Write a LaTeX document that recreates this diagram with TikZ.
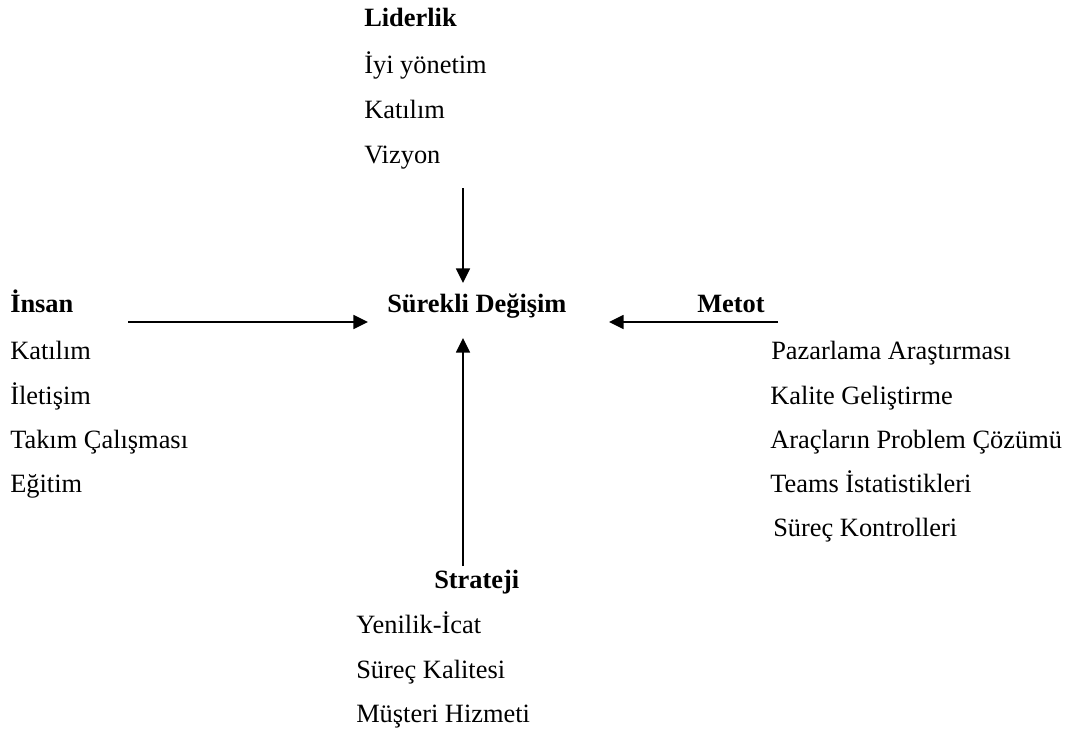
\documentclass[tikz,border=0pt]{standalone}
\usepackage{fontspec}
\setmainfont{Liberation Serif}
\usetikzlibrary{arrows.meta}
\begin{document}
\begin{tikzpicture}[x=0.75pt,y=-0.75pt,
  lbl/.style={anchor=base west,inner sep=0pt,font=\fontsize{19.8}{23}\selectfont},
  hdr/.style={lbl,font=\fontsize{19.8}{23}\selectfont\bfseries},
  arr/.style={line width=1.2pt,-{Triangle[length=11pt,width=10.5pt]}}]
\useasboundingbox (0,0) rectangle (1068,733);
% Liderlik
\node[hdr] (lid) at (364,26) {Liderlik};
\node[lbl] (l1) at (364,73) {İyi yönetim};
\node[lbl] (l2) at (364,118) {Katılım};
\node[lbl] (l3) at (364,163) {Vizyon};
% center
\node[hdr] (sd) at (387,312) {Sürekli Değişim};
% Insan
\node[hdr] (ins) at (10,312) {İnsan};
\node[lbl] (i1) at (10,359) {Katılım};
\node[lbl] (i2) at (10,404) {İletişim};
\node[lbl] (i3) at (10,448) {Takım Çalışması};
\node[lbl] (i4) at (10,492) {Eğitim};
% Metot
\node[hdr] (met) at (697,312) {Metot};
\node[lbl] (m1) at (771,359) {Pazarlama Araştırması};
\node[lbl] (m2) at (770,404) {Kalite Geliştirme};
\node[lbl] (m3) at (770,448) {Araçların Problem Çözümü};
\node[lbl] (m4) at (770,492) {Teams İstatistikleri};
\node[lbl] (m5) at (773,536) {Süreç Kontrolleri};
% Strateji
\node[hdr] (str) at (434,588) {Strateji};
\node[lbl] (s1) at (356,633) {Yenilik-İcat};
\node[lbl] (s2) at (356,678) {Süreç Kalitesi};
\node[lbl] (s3) at (356,722) {Müşteri Hizmeti};
% arrows
\coordinate (ta) at (463,188);
\coordinate (tb) at (463,283);
\coordinate (la) at (128,322);
\coordinate (lb) at (368,322);
\coordinate (ra) at (778,322);
\coordinate (rb) at (609,322);
\coordinate (ba) at (463,566);
\coordinate (bb) at (463,338);
\draw[arr] (ta) -- (tb);
\draw[arr] (la) -- (lb);
\draw[arr] (ra) -- (rb);
\draw[arr] (ba) -- (bb);
\end{tikzpicture}
\end{document}
